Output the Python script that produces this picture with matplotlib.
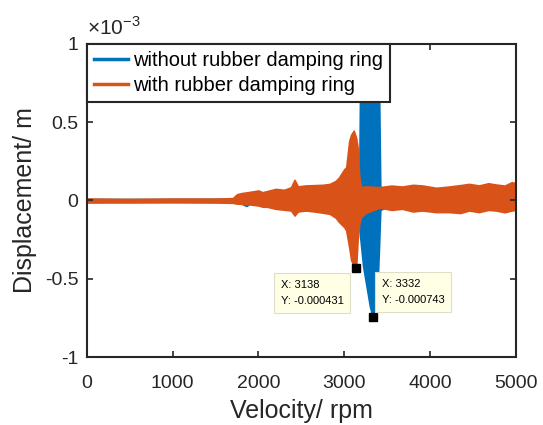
import numpy as np
import matplotlib
matplotlib.use('Agg')
import matplotlib.pyplot as plt
from matplotlib.lines import Line2D

matplotlib.rc('font', family='Liberation Sans', size=13)
matplotlib.rcParams['mathtext.fontset'] = 'custom'
matplotlib.rcParams['mathtext.rm'] = 'Liberation Sans'

rpm_without = [0, 500, 1000, 1500, 1700, 1800, 1860, 1900, 2000, 2200, 2400, 2600,
               2800, 2950, 3050, 3150, 3174, 3185, 3220, 3260, 3300, 3332, 3370,
               3390, 3405, 3420, 3500, 4000, 4500, 5000]
up_without = [0.010, 0.009, 0.010, 0.010, 0.012, 0.035, 0.030, 0.045, 0.050, 0.060, 0.070,
              0.080, 0.090, 0.110, 0.150, 0.250, 0.100, 0.760, 0.770, 0.770, 0.780,
              0.780, 0.770, 0.760, 0.740, 0.080, 0.070, 0.070, 0.080, 0.080]
lo_without = [-0.010, -0.009, -0.010, -0.010, -0.012, -0.020, -0.035, -0.020, -0.028,
              -0.045, -0.055, -0.055, -0.070, -0.100, -0.200, -0.200, -0.127, -0.230,
              -0.420, -0.550, -0.680, -0.743, -0.700, -0.510, -0.300, -0.060, -0.040,
              -0.050, -0.050, -0.050]

rpm_with = [0, 500, 1000, 1500, 1700, 1750, 1800, 1900, 2000, 2050, 2100, 2200, 2300,
            2380, 2420, 2460, 2550, 2650, 2750, 2830, 2900, 2940, 3000, 3023, 3058,
            3080, 3110, 3138, 3155, 3175, 3195, 3250, 3410, 3550, 3675, 3800, 3907,
            4070, 4221, 4350, 4454, 4570, 4680, 4767, 4870, 4953, 5000]
up_with = [0.012, 0.010, 0.012, 0.012, 0.015, 0.040, 0.047, 0.055, 0.064, 0.052, 0.060,
           0.074, 0.068, 0.085, 0.132, 0.090, 0.096, 0.098, 0.100, 0.106, 0.125, 0.148,
           0.200, 0.212, 0.380, 0.420, 0.446, 0.400, 0.340, 0.150, 0.085, 0.090,
           0.085, 0.095, 0.089, 0.100, 0.096, 0.081, 0.089, 0.098, 0.106, 0.096,
           0.110, 0.102, 0.095, 0.117, 0.110]
lo_with = [-0.012, -0.012, -0.010, -0.012, -0.015, -0.020, -0.021, -0.025, -0.032,
           -0.040, -0.040, -0.053, -0.059, -0.064, -0.096, -0.070, -0.064, -0.070,
           -0.078, -0.085, -0.110, -0.138, -0.170, -0.191, -0.300, -0.380, -0.420,
           -0.431, -0.255, -0.147, -0.106, -0.080, -0.045, -0.060, -0.053, -0.070,
           -0.064, -0.074, -0.074, -0.080, -0.064, -0.074, -0.060, -0.064, -0.075,
           -0.064, -0.060]

tip_x = [3138, 3332]
tip_y = [-0.000431, -0.000743]

labels = ['without rubber damping ring', 'with rubber damping ring']
blue = '#0072BD'
orange = '#D95319'

fig = plt.figure(figsize=(5.43, 4.25), dpi=100)
ax = fig.add_axes([0.160, 0.160, 0.790, 0.7365])

ax.fill_between(rpm_without, np.array(up_without) * 1e-3, np.array(lo_without) * 1e-3,
                color=blue, lw=1.2)
ax.fill_between(rpm_with, np.array(up_with) * 1e-3, np.array(lo_with) * 1e-3,
                color=orange, lw=1.2)

ax.plot(tip_x, tip_y, 's', color='k', ms=6, zorder=5)

tip_box = dict(boxstyle='square,pad=0.6', fc='#FFFFE6', ec='#DDDDC8', lw=0.8)
ax.text(2260, -0.000505, 'X: 3138\nY: -0.000431', fontsize=8, ha='left', va='top',
        linespacing=1.8, bbox=tip_box, zorder=6)
ax.text(3440, -0.000500, 'X: 3332\nY: -0.000743', fontsize=8, ha='left', va='top',
        linespacing=1.8, bbox=tip_box, zorder=6)

ax.set_xlim(0, 5000)
ax.set_ylim(-1e-3, 1e-3)
ax.set_xticks([0, 1000, 2000, 3000, 4000, 5000])
ax.set_yticks([-1e-3, -0.5e-3, 0, 0.5e-3, 1e-3])
ax.set_yticklabels(['-1', '-0.5', '0', '0.5', '1'])
ax.tick_params(direction='in', top=True, right=True, length=4, width=1.2,
               colors='#262626', labelsize=14, pad=6)
ax.tick_params(axis='x', pad=13)
for s in ax.spines.values():
    s.set_linewidth(1.5)
    s.set_color('#262626')

ax.text(0, 1.018, r'$\times10^{-3}$', transform=ax.transAxes, ha='left', va='bottom',
        fontsize=15, color='#262626')

ax.set_xlabel('Velocity/ rpm', fontsize=18, color='#262626', labelpad=5)
ax.set_ylabel('Displacement/ m', fontsize=18, color='#262626', labelpad=6)

handles = [Line2D([], [], color=blue, lw=2.5), Line2D([], [], color=orange, lw=2.5)]
leg = ax.legend(handles, labels, loc='upper left', bbox_to_anchor=(0, 1),
                borderaxespad=0, fontsize=14.5, frameon=True, fancybox=False,
                handlelength=1.7, handletextpad=0.25, borderpad=0.35, labelspacing=0.3)
leg.get_frame().set_edgecolor('#262626')
leg.get_frame().set_linewidth(1.5)
leg.get_frame().set_alpha(1)
leg.set_zorder(10)

fig.savefig('out.png', dpi=100)
